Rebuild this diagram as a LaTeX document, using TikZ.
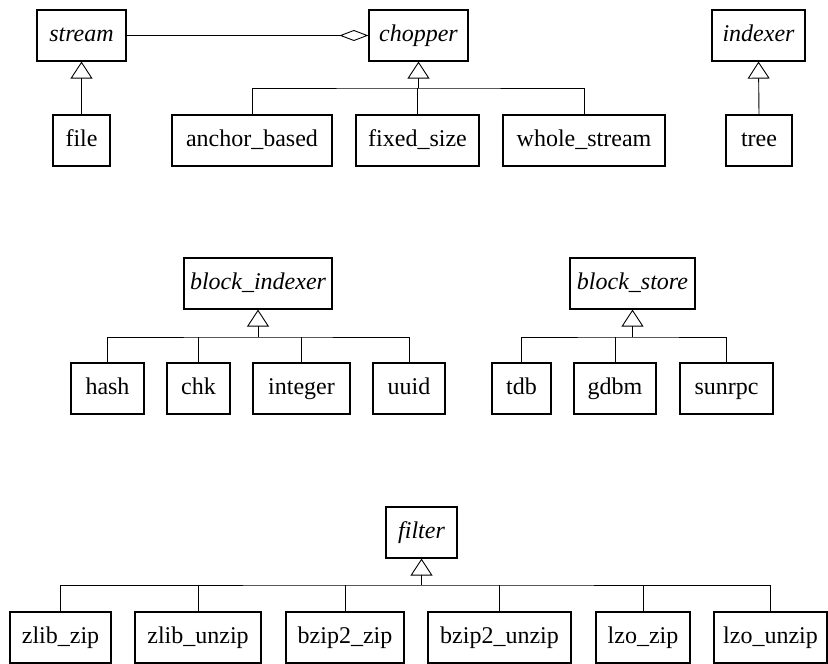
\documentclass[tikz,border=0pt]{standalone}
\usepackage{fontspec}
\setmainfont{Liberation Serif}
\usetikzlibrary{arrows.meta}
\begin{document}
\begin{tikzpicture}[x=1pt,y=1pt,
  cls/.style={draw, line width=1.2pt, fill=white, inner sep=0pt, minimum height=51pt, text height=17pt, text depth=4pt, font=\fontsize{24}{26}\selectfont},
  acls/.style={cls, font=\fontsize{24}{26}\selectfont\itshape},
  conn/.style={line width=0.9pt},
  gen/.style={conn, -{Triangle[open, length=17pt, width=22pt, line width=0.9pt]}},
  agg/.style={conn, {Diamond[open, length=29pt, width=11pt, line width=0.9pt]}-}
]
\useasboundingbox (0,0) rectangle (828,664);
% row 1
\node[acls, minimum width=89pt] (stream) at (81.5,628.5) {stream};
\node[acls, minimum width=99pt] (chopper) at (418.5,628.5) {chopper};
\node[acls, minimum width=93pt] (indexer) at (758.5,628.5) {indexer};
\node[cls, minimum width=57pt] (file) at (81.5,523.5) {file};
\node[cls, minimum width=160pt] (anchor) at (252,523.5) {anchor\_based};
\node[cls, minimum width=123pt] (fixed) at (417.5,523.5) {fixed\_size};
\node[cls, minimum width=162pt] (whole) at (584,523.5) {whole\_stream};
\node[cls, minimum width=66pt] (tree) at (759,523.5) {tree};
\coordinate (cbus) at (418.5,576);
\draw[gen] (file.north) -- (stream.south);
\draw[gen] (tree.north) -- (indexer.south);
\draw[agg] (chopper.west) -- (stream.east);
\draw[conn] (anchor.north) |- (cbus) -| (whole.north);
\draw[conn] (fixed.north) -- (fixed.north |- cbus);
\draw[gen] (cbus) -- (chopper.south);
% row 2
\node[acls, minimum width=148pt] (bidx) at (258,380.5) {block\_indexer};
\node[acls, minimum width=125pt] (bstore) at (632.5,380.5) {block\_store};
\node[cls, minimum width=73pt] (hash) at (107.5,275.5) {hash};
\node[cls, minimum width=63pt] (chk) at (198.5,275.5) {chk};
\node[cls, minimum width=97pt] (integer) at (301.5,275.5) {integer};
\node[cls, minimum width=72pt] (uuid) at (409,275.5) {uuid};
\node[cls, minimum width=59pt] (tdb) at (521.5,275.5) {tdb};
\node[cls, minimum width=82pt] (gdbm) at (615,275.5) {gdbm};
\node[cls, minimum width=93pt] (sunrpc) at (726.5,275.5) {sunrpc};
\coordinate (bibus) at (258,327);
\coordinate (bsbus) at (632.5,327);
\draw[conn] (hash.north) |- (bibus) -| (uuid.north);
\draw[conn] (chk.north) -- (chk.north |- bibus);
\draw[conn] (integer.north) -- (integer.north |- bibus);
\draw[gen] (bibus) -- (bidx.south);
\draw[conn] (tdb.north) |- (bsbus) -| (sunrpc.north);
\draw[conn] (gdbm.north) -- (gdbm.north |- bsbus);
\draw[gen] (bsbus) -- (bstore.south);
% row 3
\node[acls, minimum width=71pt] (filter) at (421.5,131.5) {filter};
\node[cls, minimum width=101pt] (zz) at (60.5,26.5) {zlib\_zip};
\node[cls, minimum width=126pt] (zu) at (198,26.5) {zlib\_unzip};
\node[cls, minimum width=118pt] (bz) at (345,26.5) {bzip2\_zip};
\node[cls, minimum width=143pt] (bu) at (499.5,26.5) {bzip2\_unzip};
\node[cls, minimum width=94pt] (lz) at (643,26.5) {lzo\_zip};
\node[cls, minimum width=113pt] (lu) at (770.5,26.5) {lzo\_unzip};
\coordinate (fbus) at (421.5,79);
\draw[conn] (zz.north) |- (fbus) -| (lu.north);
\draw[conn] (zu.north) -- (zu.north |- fbus);
\draw[conn] (bz.north) -- (bz.north |- fbus);
\draw[conn] (bu.north) -- (bu.north |- fbus);
\draw[conn] (lz.north) -- (lz.north |- fbus);
\draw[gen] (fbus) -- (filter.south);
\end{tikzpicture}
\end{document}
